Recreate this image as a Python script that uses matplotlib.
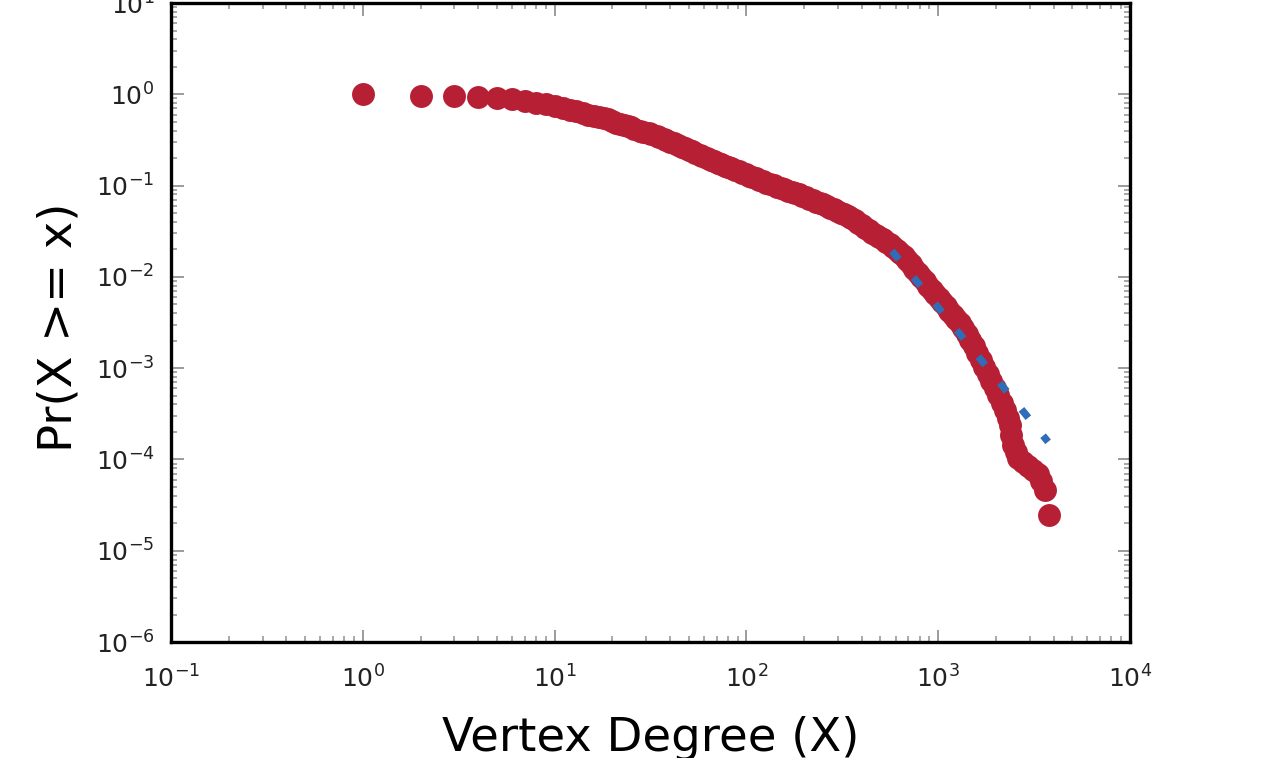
import matplotlib
matplotlib.use("Agg")
import matplotlib.pyplot as plt
from matplotlib.ticker import LogLocator, NullFormatter

# Complementary cumulative degree distribution (degree, Pr(X >= x))
degree = [1, 2, 3, 4, 5, 6, 7, 8, 9, 10, 11, 12, 13, 14, 15, 16, 17, 18, 19,
          20, 21, 22, 23, 24, 25, 26, 28, 29, 31, 32, 34, 35, 37, 38, 40, 42,
          44, 46, 48, 50, 52, 54, 57, 59, 62, 65, 68, 71, 74, 77, 80, 83, 87,
          91, 95, 99, 103, 107, 112, 117, 122, 127, 133, 139, 145, 151, 158,
          165, 172, 179, 187, 195, 204, 213, 222, 232, 242, 252, 263, 274, 286,
          298, 311, 324, 338, 353, 368, 384, 400, 417, 435, 454, 473, 493, 514,
          536, 559, 583, 608, 634, 661, 690, 719, 750, 782, 816, 850, 887, 925,
          965, 1006, 1050, 1094, 1142, 1190, 1242, 1294, 1350, 1407, 1468,
          1530, 1597, 1664, 1737, 1810, 1889, 1968, 2054, 2140, 2230, 2300,
          2368, 2410, 2453, 2530, 2608, 2770, 2940, 3120, 3313, 3450, 3603,
          3784]
ccdf = [1.0, 0.97, 0.95, 0.93, 0.92, 0.88, 0.85, 0.81, 0.78, 0.75, 0.71, 0.68,
        0.65, 0.62, 0.60, 0.58, 0.56, 0.545, 0.53, 0.51, 0.49, 0.475, 0.46,
        0.447, 0.435, 0.417, 0.40, 0.388, 0.377, 0.364, 0.352, 0.339, 0.326,
        0.314, 0.303, 0.29, 0.278, 0.267, 0.256, 0.246, 0.237, 0.227, 0.217,
        0.209, 0.201, 0.193, 0.185, 0.178, 0.171, 0.1655, 0.160, 0.1545,
        0.149, 0.1435, 0.138, 0.1335, 0.129, 0.1245, 0.120, 0.116, 0.112,
        0.108, 0.104, 0.1005, 0.097, 0.094, 0.091, 0.088, 0.085, 0.0825,
        0.080, 0.0772, 0.0744, 0.0719, 0.0694, 0.0669, 0.0645, 0.0622, 0.060,
        0.0575, 0.055, 0.0528, 0.0506, 0.0485, 0.0465, 0.044, 0.0415, 0.039,
        0.0367, 0.0345, 0.0325, 0.0305, 0.0287, 0.0272, 0.0259, 0.0243,
        0.0228, 0.0213, 0.0199, 0.0183, 0.0168, 0.0152, 0.0137, 0.0123,
        0.0111, 0.00996, 0.00893, 0.00801, 0.00719, 0.00647, 0.00583,
        0.00526, 0.00474, 0.00428, 0.00386, 0.00349, 0.00315, 0.00273,
        0.00236, 0.00203, 0.00175, 0.00147, 0.00124, 0.00104, 0.000866,
        0.000723, 0.000603, 0.000502, 0.000417, 0.000349, 0.000286, 0.000239,
        0.000186, 0.000144, 0.000121, 0.000104, 9.39e-05, 8.49e-05, 7.68e-05,
        6.94e-05, 5.82e-05, 4.63e-05, 2.47e-05]

# Power-law fit over the tail (end points of the fitted line)
fit_x = [574, 3740]
fit_y = [0.0192, 1.56e-4]

xlim = (1e-1, 1e4)
ylim = (1e-6, 1e1)

fig = plt.figure(figsize=(12.62, 7.58), dpi=100)
ax = fig.add_axes([0.1355, 0.153, 0.7599, 0.843])

ax.plot(degree, ccdf, 'o', ms=16.5, color='#B71F35', mec='none', zorder=2)
ax.plot(fit_x, fit_y, color='#2E6EB8', lw=5.2, dashes=(1.5, 3.22),
        dash_capstyle='butt', zorder=3)

ax.set_xscale('log')
ax.set_yscale('log')
ax.set_xlim(*xlim)
ax.set_ylim(*ylim)

for axis in (ax.xaxis, ax.yaxis):
    axis.set_major_locator(LogLocator(base=10, numticks=20))
    axis.set_minor_locator(LogLocator(base=10, subs=range(2, 10), numticks=20))
    axis.set_minor_formatter(NullFormatter())

ax.tick_params(which='both', direction='in', top=True, right=True)
ax.tick_params(which='major', length=9, width=1.2, color='#8a8a8a',
               labelcolor='#222222', labelsize=18)
ax.tick_params(axis='x', which='major', pad=17)
ax.tick_params(axis='y', which='major', pad=12)
ax.tick_params(which='minor', length=4, width=1.2, color='#9a9a9a')

for s in ax.spines.values():
    s.set_linewidth(2.4)
    s.set_color('black')

ax.set_xlabel('Vertex Degree (X)', fontsize=33.5)
ax.set_ylabel('Pr(X >= x)', fontsize=33.5)
ax.xaxis.set_label_coords(0.5, -0.115)
ax.xaxis.label.set_va('top')
ax.yaxis.set_label_coords(-0.093, 0.492)

fig.savefig('out.png', dpi=100)
